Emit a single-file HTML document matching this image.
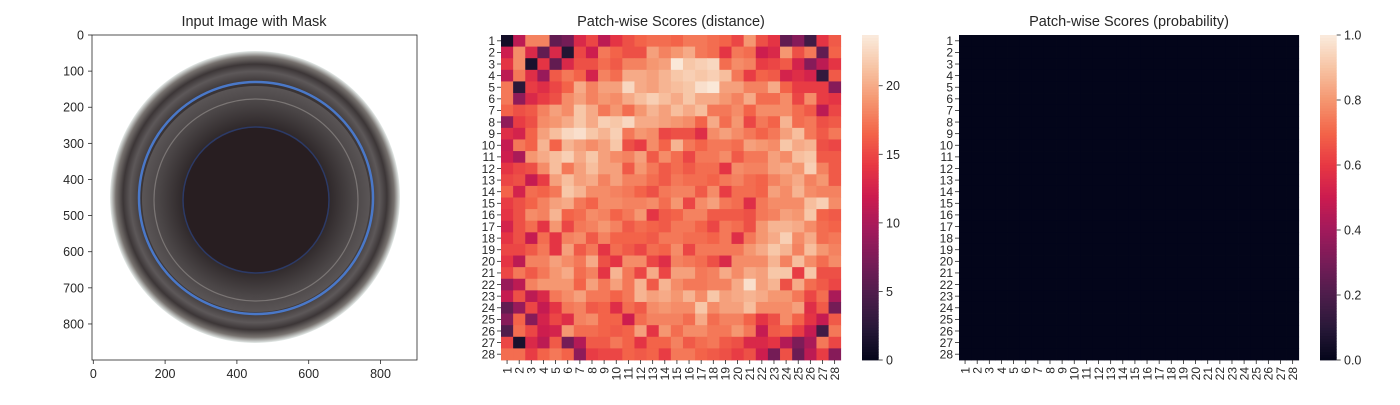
<!DOCTYPE html>
<html><head><meta charset="utf-8"><style>
body{margin:0;background:#fff;}
svg text{font-family:"Liberation Sans",Arial,sans-serif;fill:#262626;}
</style></head><body>
<svg id="fig" width="1400" height="400" xmlns="http://www.w3.org/2000/svg">
<g>
<text x="254" y="26" font-size="14.5" text-anchor="middle">Input Image with Mask</text>
<defs>
<radialGradient id="rimG" cx="0.5" cy="0.5" r="0.5">
<stop offset="0.78" stop-color="#3a3435"/><stop offset="0.86" stop-color="#5d5859"/><stop offset="0.91" stop-color="#3c3637"/><stop offset="0.96" stop-color="#77726f"/><stop offset="1" stop-color="#e6ecea"/>
</radialGradient>
<radialGradient id="midG" cx="0.5" cy="0.5" r="0.5">
<stop offset="0.6" stop-color="#2a2325"/><stop offset="0.85" stop-color="#4a4546"/><stop offset="1" stop-color="#5a5556"/>
</radialGradient>
</defs>
<rect x="92" y="35" width="325" height="325" fill="#fff"/>
<ellipse cx="255" cy="197" rx="145" ry="146" fill="url(#rimG)"/>
<ellipse cx="256" cy="198" rx="117" ry="116" fill="none" stroke="#4a78c8" stroke-width="2.5"/>
<ellipse cx="256" cy="199" rx="114" ry="113" fill="url(#midG)"/>
<ellipse cx="256" cy="200" rx="102" ry="101" fill="none" stroke="#7a7574" stroke-width="1.2"/>
<ellipse cx="256" cy="200" rx="73" ry="73" fill="#281e21" stroke="#2c3a66" stroke-width="1.5"/>
<rect x="92" y="35" width="325" height="325" fill="none" stroke="#262626" stroke-width="0.8"/>
<g id="imgAxes"></g>
</g>
<g id="hm1">
<text x="671" y="26" font-size="14.5" text-anchor="middle">Patch-wise Scores (distance)</text>
</g>
<g id="hm2">
<text x="1129" y="26" font-size="14.5" text-anchor="middle">Patch-wise Scores (probability)</text>
</g>
</svg>
<script>
const imgTicks=[0,200,400,600,800];
const imgYTicks=[0,100,200,300,400,500,600,700,800];
const distRows=[
[1,11,18,18,6,7,13,15,11,14,15.5,16.5,17,17,16.5,17.5,17.5,17,16.5,15,19,15.5,14,6,8,4,14,16],
[12,18.5,13,6,13,2,15,12,17.5,16.5,15.5,15.5,19.5,18,19,20,17.5,17,14,17.5,17,12,13,19,15.5,17.5,6,16.5],
[14,18.5,1.5,14,6,13,15.5,15.5,17,16,18,18,19,19.5,23.5,21.5,22,22.5,17,18.5,18,14.5,15,16,12.5,8,11,14],
[11,17.5,13.5,9,16,17.5,16.5,12.5,18,17,20,20,19.5,20.5,21.5,22,21.5,22,21,17.5,14.5,16.5,16,12.5,13.5,12.5,3,16],
[17.5,2.5,14.5,13.5,15,16.5,20,18,19.5,19.5,22.5,20,19.5,20.5,21,21.5,23,23.5,19.5,19.5,18,18,20,16.5,14.5,14.5,14.5,8],
[17.5,8.5,13,14.5,15.5,18.5,19.5,18,19,18.5,20,21,22,21,20,21.5,20,20,19,18,20,17,17,18.5,15,18.5,14.5,14],
[16.5,15.5,16,18,19.5,18.5,21.5,20,17.5,19,17,19,20.5,19.5,21,20,21,17.5,17.5,18.5,16.5,18.5,18.5,18.5,17,16,11,15],
[8.5,14.5,15.5,18.5,19,20,21.5,20,22,21.5,22.5,20,20,19.5,19,18.5,16.5,20,17,19,15,17.5,16.5,20.5,17,17.5,15.5,16],
[13.5,12.5,16.5,19.5,21,22.5,23,21.5,20.5,22,17.5,19,18.5,15,15.5,15.5,13.5,18.5,19.5,18.5,17.5,16.5,17.5,19.5,21,17.5,16,17.5],
[11.5,17.5,16.5,20.5,16.5,20.5,19.5,18.5,19.5,21.5,15.5,14.5,18.5,16.5,20.5,17.5,16.5,17.5,17.5,17,19.5,19,18.5,21.5,20,20.5,15.5,15],
[12,10,19,20,21,22,20,21.5,19.5,18.5,18,19.5,16,18.5,17,15,17.5,17.5,18.5,16,17.5,17.5,19.5,18.5,21,21.5,16,16],
[14,15,15.5,18.5,21,17.5,19.5,21,19.5,19.5,16,19,17.5,16,17,16,17,17,14,18.5,18,18,19.5,20,19,22,18,16],
[15,15.5,11.5,14.5,19.5,21,19.5,20,18,19.5,18,18,17,16,17.5,17,17,16.5,17.5,18,17,16.5,18,19,20,18,19,16],
[16.5,12.5,17,16.5,17.5,21.5,20.5,18.5,18.5,18,17.5,16.5,15.5,17.5,18,18,16,18.5,14.5,17,17,16.5,19.5,18.5,20.5,18.5,18,18],
[14.5,15.5,16.5,18,19.5,20,17.5,16.5,18.5,18.5,18,18,18.5,17,19,15,18.5,19.5,17.5,17,13.5,17.5,18.5,18.5,18.5,21,22,18.5],
[14,15.5,18.5,18,20.5,16.5,17,18.5,18,16.5,17.5,19,14,16,16.5,18,18,16,16,16,15.5,17.5,18,19.5,19,21.5,16.5,16],
[12.5,15.5,17,14,19,15,17.5,18,19,18,16,17,16.5,16,17.5,17.5,16.5,15,17.5,17,15.5,19,20.5,20.5,20,18.5,17,16.5],
[14,15.5,11.5,17,14,18,18.5,16,18,16.5,16.5,16.5,16,17.5,17.5,17,17,16.5,17.5,13.5,17.5,19,20,22,18.5,20,17,17.5],
[15,15,16,17.5,14,19.5,16,17.5,14,17,16,15,17,16.5,18.5,15,17.5,17.5,17.5,17.5,19,20,21.5,20.5,18,21,19,18],
[14,11,18,18,19.5,18.5,17.5,20,15.5,14,18.5,18.5,15,13.5,18,17.5,17,15.5,13,18.5,18.5,18.5,20.5,18,21,18.5,17,18.5],
[15,17.5,16,17.5,19,20,17,18,14,20.5,17.5,15,20,15,19.5,19.5,17.5,18,20,18.5,20,19.5,21.5,21.5,14.5,21.5,15.5,15.5],
[9,11,18,19,19,19,16.5,19.5,17.5,19.5,17.5,20.5,16,20.5,18.5,17.5,17.5,18,18,20,23,19.5,20.5,15.5,20,17,16,15],
[11.5,15.5,11,13,17.5,18.5,19.5,17.5,17.5,16.5,17.5,20.5,19.5,20,19,20.5,18.5,21.5,19.5,20,20.5,20,19,19,17.5,15,17,10],
[6,9,15,11.5,14,17.5,18,16,16.5,13.5,17,16,18.5,19,18.5,18.5,21.5,18.5,19.5,19.5,21,18.5,18.5,18.5,19.5,13.5,16,7],
[8,16.5,8,12.5,15,13.5,18,18.5,16.5,16.5,12,17,18,18,18,17,20,17,18,18,16.5,14,15.5,18.5,16.5,14,11.5,16],
[5,17,15,12,12.5,19,17,17,16.5,16,16.5,19.5,14,19,17,18.5,18.5,17.5,17.5,19,17.5,11.5,16,16.5,14.5,11.5,4,17.5],
[15,1.5,13,11,16,7,10.5,16,16,17.5,16.5,14,16.5,16.5,18,16,17,17.5,16,15.5,13,13,14,10.5,7.5,10,17.5,15],
[17,17,14.5,16.5,17.5,16.5,8.5,14.5,15,15,16.5,16,16.5,14.5,17.5,17.5,16.5,16,15.5,14.5,15.5,12,7,15.5,6.5,11,14.5,8]
];
const probValue=0.0;
const distMax=23.7;
const distTicks=[0,5,10,15,20];
const probTicks=[0,0.2,0.4,0.6,0.8,1.0];
const probTickLabels=["0.0","0.2","0.4","0.6","0.8","1.0"];

const NS="http://www.w3.org/2000/svg";
const rocket=[[0,3,5,26],[0.1,40,24,56],[0.2,76,29,75],[0.3,118,28,87],[0.4,161,26,91],[0.5,203,27,79],[0.6,231,55,67],[0.7,243,101,73],[0.8,245,150,112],[0.9,247,196,164],[1,250,235,221]];
function cmap(t){t=Math.max(0,Math.min(1,t));for(let i=1;i<rocket.length;i++){if(t<=rocket[i][0]){const a=rocket[i-1],b=rocket[i],f=(t-a[0])/(b[0]-a[0]);return `rgb(${Math.round(a[1]+f*(b[1]-a[1]))},${Math.round(a[2]+f*(b[2]-a[2]))},${Math.round(a[3]+f*(b[3]-a[3]))})`;}}return "rgb(250,235,221)";}
function mk(tag,attrs,parent){const e=document.createElementNS(NS,tag);for(const k in attrs)e.setAttribute(k,attrs[k]);parent.appendChild(e);return e;}

// image axes
const ia=document.getElementById('imgAxes');
const ix=v=>93.3+v*0.359, iy=v=>35+v*0.3612;
imgTicks.forEach(v=>{
 const l=mk('line',{x1:ix(v),x2:ix(v),y1:360,y2:364,stroke:'#262626','stroke-width':0.8},ia);
 
 
 const t=mk('text',{x:ix(v),y:378,'font-size':12.5,'text-anchor':'middle'},ia);t.textContent=v;
 
 
});
imgYTicks.forEach(v=>{
 const l=mk('line',{x1:88,x2:92,y1:iy(v),y2:iy(v),stroke:'#262626','stroke-width':0.8},ia);
 
 
 const t=mk('text',{x:84,y:iy(v)+4.5,'font-size':12.5,'text-anchor':'end'},ia);t.textContent=v;
 
 
});

function heatmap(g,x0,x1,getVal,vmax,ticks,tickLabels,cbx){
 const y0=35,y1=360,n=28,cw=(x1-x0)/n,ch=(y1-y0)/n;
 for(let r=0;r<n;r++)for(let c=0;c<n;c++){
  const cell=mk('rect',{x:x0+c*cw,y:y0+r*ch,width:cw+0.4,height:ch+0.4,fill:cmap(getVal(r,c)/vmax)},g);
  
  
 }
 for(let i=0;i<n;i++){
  const yc=y0+(i+0.5)*ch, xc=x0+(i+0.5)*cw;
  const l=mk('line',{x1:x0-4,x2:x0,y1:yc,y2:yc,stroke:'#262626','stroke-width':0.8},g);
  
  
  const t=mk('text',{x:x0-6,y:yc+4.3,'font-size':12,'text-anchor':'end'},g);t.textContent=i+1;
  
  
  const l2=mk('line',{x1:xc,x2:xc,y1:y1,y2:y1+4,stroke:'#262626','stroke-width':0.8},g);
  
  
  const t2=mk('text',{x:0,y:0,'font-size':12,'text-anchor':'end',transform:`translate(${xc+4.3},${y1+7}) rotate(-90)`},g);t2.textContent=i+1;
  
  
 }
 // colorbar
 const steps=120,h=(y1-y0)/steps;
 for(let s=0;s<steps;s++){
  const r=mk('rect',{x:cbx,y:y1-(s+1)*h,width:16.7,height:h+0.4,fill:cmap((s+0.5)/steps)},g);
  
  
 }
 ticks.forEach((v,i)=>{
  const yy=y1-(v/vmax)*(y1-y0);
  const l=mk('line',{x1:cbx+16.7,x2:cbx+20.7,y1:yy,y2:yy,stroke:'#262626','stroke-width':0.8},g);
  
  
  const t=mk('text',{x:cbx+24,y:yy+4.5,'font-size':12.5},g);t.textContent=tickLabels[i];
  
  
 });
}
heatmap(document.getElementById('hm1'),501,840.7,(r,c)=>distRows[r][c],distMax,distTicks,distTicks.map(String),862);
heatmap(document.getElementById('hm2'),959,1298.7,(r,c)=>probValue,1.0,probTicks,probTickLabels,1320);
</script>
</body></html>
